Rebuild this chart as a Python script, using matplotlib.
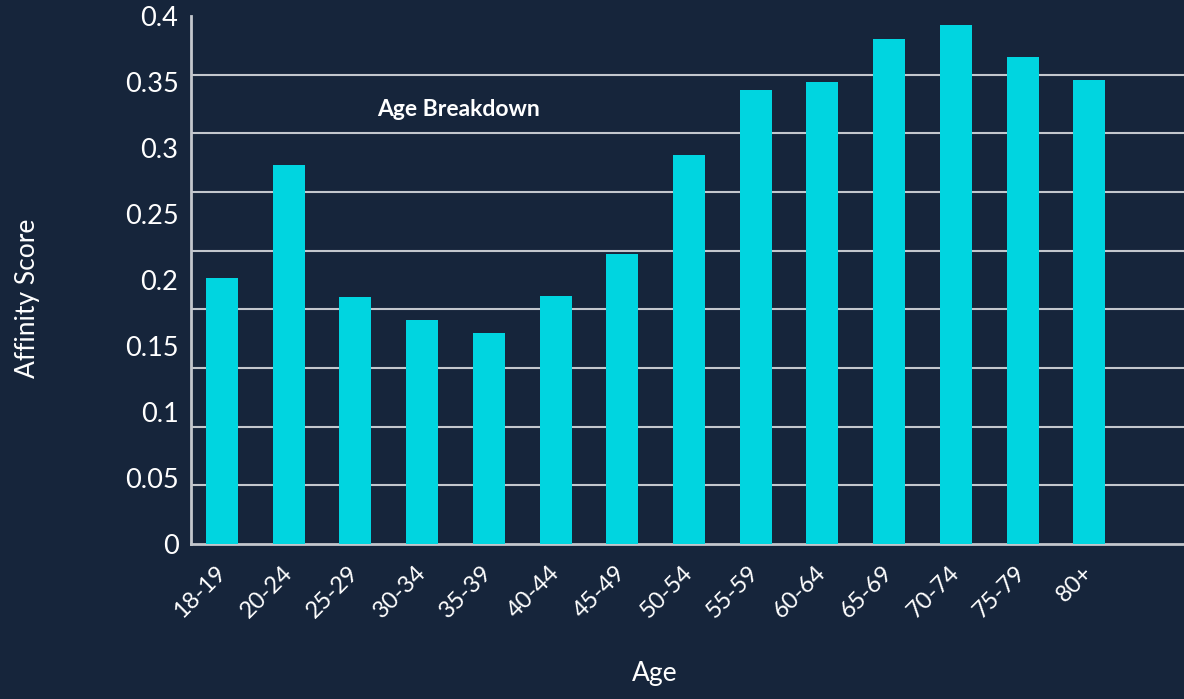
import numpy as np
import matplotlib
matplotlib.use("Agg")
import matplotlib.pyplot as plt

# data
ages = ["18-19", "20-24", "25-29", "30-34", "35-39", "40-44", "45-49",
        "50-54", "55-59", "60-64", "65-69", "70-74", "75-79", "80+"]
scores = [0.2015, 0.287, 0.187, 0.170, 0.160, 0.188, 0.220,
          0.295, 0.344, 0.350, 0.3826, 0.393, 0.369, 0.3515]
y_ticks = [0, 0.05, 0.1, 0.15, 0.2, 0.25, 0.3, 0.35, 0.4]
y_tick_labels = ["0", "0.05", "0.1", "0.15", "0.2", "0.25", "0.3", "0.35", "0.4"]

bg = "#16253b"
bar_color = "#00d5e0"
grid_color = "#c3c7cd"

plt.rcParams["font.family"] = ["Lato", "DejaVu Sans"]

fig = plt.figure(figsize=(11.84, 6.99), dpi=100)
fig.patch.set_facecolor(bg)
ax = fig.add_axes([0.1613, 0.2217, 0.8387, 0.7554])
ax.set_facecolor(bg)

x = np.arange(len(ages))
ax.bar(x, scores, width=0.48, color=bar_color, zorder=3)

ax.set_xlim(-0.465, 14.42)
ax.set_ylim(0, 0.4)

# grid in the original uses 9 divisions, independent of the labels
ax.set_yticks(y_ticks)
ax.set_yticklabels(y_tick_labels)
ax.set_yticks(np.linspace(0, 0.4, 10), minor=True)
ax.grid(which="minor", axis="y", color=grid_color, lw=1.5, zorder=1)
ax.tick_params(axis="y", which="both", length=0, pad=9,
               labelsize=19.5, labelcolor="white")

ax.set_xticks(x)
ax.set_xticklabels(ages, rotation=45, ha="right", va="center",
                   rotation_mode="anchor")
ax.tick_params(axis="x", length=0, pad=18, labelsize=17, labelcolor="white")

for side in ["top", "right"]:
    ax.spines[side].set_visible(False)
for side in ["left", "bottom"]:
    ax.spines[side].set_color(grid_color)
    ax.spines[side].set_linewidth(2)

ax.set_xlabel("Age", color="white", fontsize=19)
ax.xaxis.set_label_coords(0.467, -0.222)
ax.set_ylabel("Affinity Score", color="white", fontsize=19)
ax.yaxis.set_label_coords(-0.152, 0.466)

ax.text(0.269, 0.822, "Age Breakdown", transform=ax.transAxes,
        ha="center", va="center", color="white", fontsize=16.5,
        fontweight="bold")

fig.savefig("out.png", dpi=100, facecolor=bg)
